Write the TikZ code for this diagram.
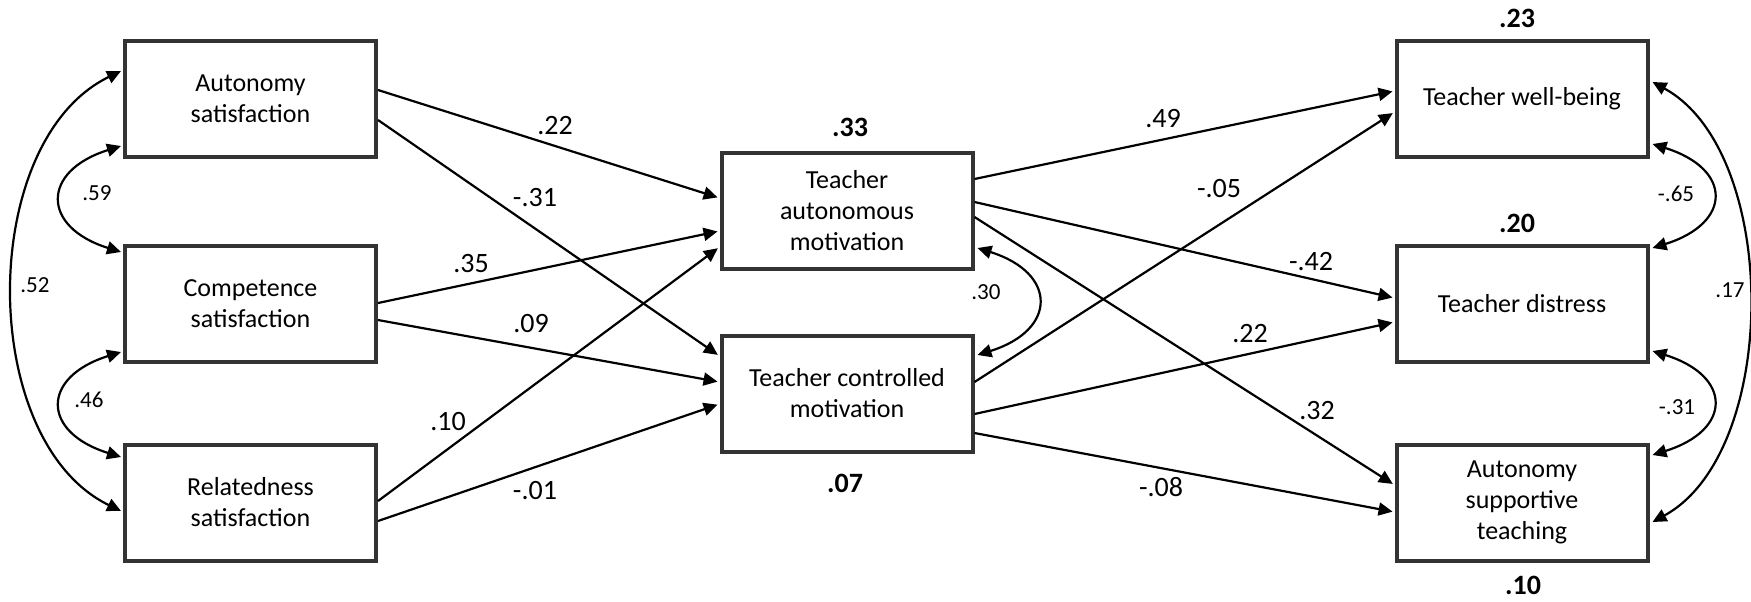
\documentclass[tikz,border=0pt]{standalone}
\usepackage{fontspec}
\setmainfont{Carlito}
\usetikzlibrary{arrows.meta,calc}

\begin{document}
\begin{tikzpicture}[x=0.5pt,y=-0.5pt,
  var/.style={draw=black!80,line width=2pt,minimum width=125.5pt,minimum height=58pt,
    inner sep=0pt,align=center,font=\fontsize{13}{15.5}\selectfont},
  reg/.style={-{Triangle[length=7pt,width=6.5pt]},line width=1.1pt,shorten >=1pt},
  cov/.style={{Triangle[length=7pt,width=6.5pt]}-{Triangle[length=7pt,width=6.5pt]},line width=1.1pt},
  coef/.style={font=\fontsize{14}{16}\selectfont,inner sep=0pt},
  corr/.style={font=\fontsize{11.5}{13}\selectfont,inner sep=0pt},
  rsq/.style={font=\bfseries\fontsize{14}{16}\selectfont,inner sep=0pt}]
\useasboundingbox (0,0) rectangle (1751,601);

% Draw the variables
\node[var] (as) at (250.5,99) {Autonomy\\satisfaction};
\node[var] (cs) at (250.5,304) {Competence\\satisfaction};
\node[var] (rs) at (250.5,502.5) {Relatedness\\satisfaction};
\node[var] (tam) at (847,210.5) {Teacher\\autonomous\\motivation};
\node[var] (tcm) at (847,393.5) {Teacher controlled\\motivation};
\node[var] (twb) at (1522,99) {Teacher well-being};
\node[var] (td) at (1522,303.5) {Teacher distress};
\node[var] (ast) at (1522,502.5) {Autonomy\\supportive\\teaching};

% Draw the paths
\foreach \src/\sdy/\dst/\ddy in {as/-9/tam/-12.5, as/21/tcm/-37.5, cs/-1/tam/20.5, cs/16/tcm/-11.5,
    rs/-1.5/tam/36.5, rs/18.5/tcm/10.5, tam/-31.5/twb/-8, tam/-8.5/td/-5.5, tam/6.5/ast/-17.5,
    tcm/-11.5/twb/13, tcm/20.5/td/18.5, tcm/39.5/ast/9.5}
  \draw[reg] ($(\src.east)+(0,\sdy)$) -- ($(\dst.west)+(0,\ddy)$);

% Draw the covariances
\draw[cov] ($(as.west)+(-2,47)$) .. controls +(-80,25) and +(-80,-25) .. ($(cs.west)+(-2,-52)$);
\draw[cov] ($(cs.west)+(-2,48)$) .. controls +(-80,25) and +(-80,-25) .. ($(rs.west)+(-2,-45.5)$);
\draw[cov] ($(as.west)+(-2,-28)$) .. controls +(-144,70) and +(-144,-70) .. ($(rs.west)+(-2,8.5)$);
\draw[cov] ($(tam.east)+(3,37.5)$) .. controls +(80,25) and +(80,-25) .. ($(tcm.east)+(3,-38.5)$);
\draw[cov] ($(twb.east)+(3,45)$) .. controls +(80,25) and +(80,-25) .. ($(td.east)+(3,-55.5)$);
\draw[cov] ($(td.east)+(3,47.5)$) .. controls +(80,25) and +(80,-25) .. ($(ast.east)+(3,-47.5)$);
\draw[cov] ($(twb.east)+(3,-17)$) .. controls +(128,70) and +(128,-70) .. ($(ast.east)+(3,19.5)$);

% Draw the coefficients
\foreach \nm/\x/\y/\lab in {b1/555/126/.22, b2/535/198/-.31, b3/471/264/.35, b4/531/324/.09,
    b5/448/422/.10, b6/535/491/-.01, b7/1163/119/.49, b8/1219/189/-.05, b9/1311/262/-.42,
    b10/1250/334/.22, b11/1317/411/.32, b12/1161/487/-.08}
  \node[coef] (\nm) at (\x,\y) {\lab};

\foreach \nm/\x/\y/\lab in {r1/97/193/.59, r2/89/400/.46, r3/35/285/.52, r4/986/292/.30,
    r5/1676/194/-.65, r6/1677/407/-.31, r7/1730/290/.17}
  \node[corr] (\nm) at (\x,\y) {\lab};

% Draw the explained variances
\foreach \nm/\x/\y/\lab in {q1/850/127/.33, q2/845/483/.07, q3/1517/18/.23, q4/1517/223/.20, q5/1523/585/.10}
  \node[rsq] (\nm) at (\x,\y) {\lab};

\end{tikzpicture}
\end{document}
